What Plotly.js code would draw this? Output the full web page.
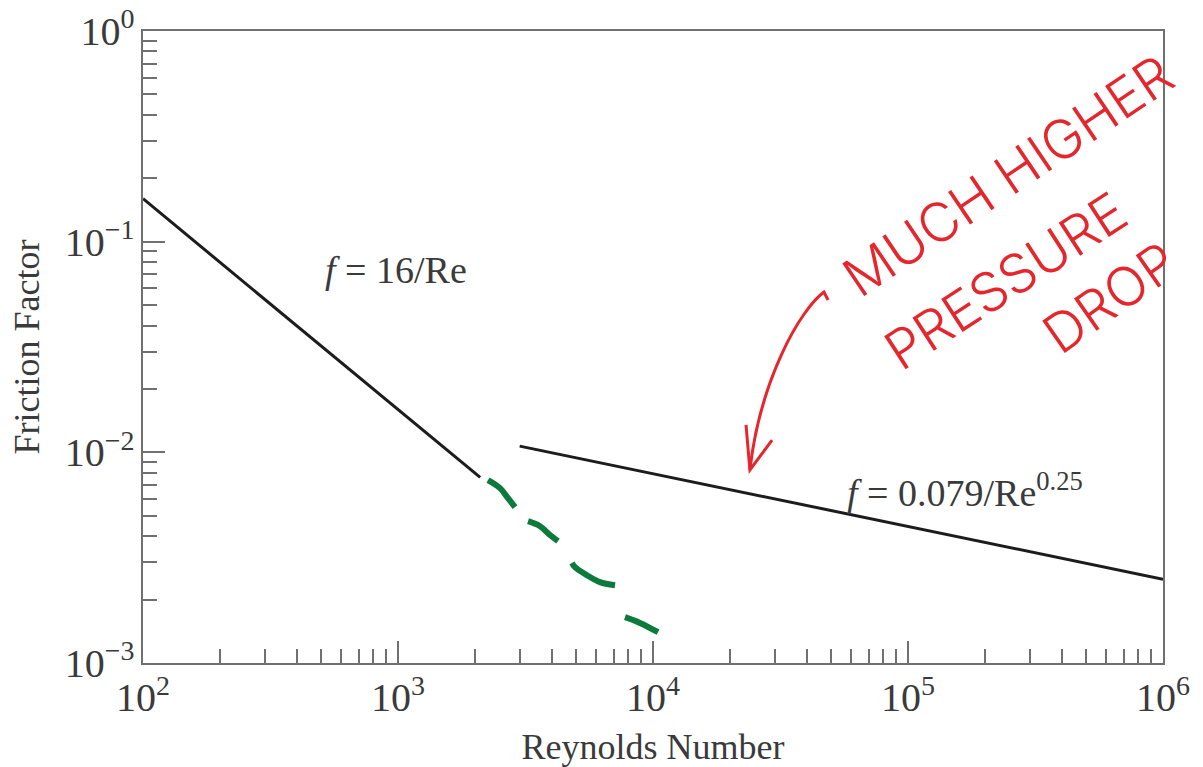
<!DOCTYPE html>
<html>
<head>
<meta charset="utf-8">
<script src="https://cdn.plot.ly/plotly-3.0.1.min.js"></script>
<style>
  html, body { margin: 0; padding: 0; background: #ffffff; }
  #chart { width: 1203px; height: 767px; }
</style>
</head>
<body>
<div id="chart"></div>
<script>
// Laminar branch, f = 16/Re
const reLaminar = [100, 2100];
const fLaminar = [0.16, 0.0076];

// Turbulent branch, f = 0.079/Re^0.25
const reTurbulent = [3000, 1000000];
const fTurbulent = [0.0107, 0.0025];

// Hand-drawn green dashes continuing the laminar line
const reDash1 = [2254, 2512, 2700, 2877];
const fDash1 = [0.00738, 0.00676, 0.00606, 0.00549];
const reDash2 = [3236, 3606, 3945, 4240];
const fDash2 = [0.00471, 0.00446, 0.00405, 0.00379];
const reDash3 = [4808, 4943, 5508, 6194, 7096];
const fDash3 = [0.00298, 0.00285, 0.00261, 0.00242, 0.00234];
const reDash4 = [7766, 8892, 10466];
const fDash4 = [0.00165, 0.00155, 0.00140];

const serif = "Liberation Serif, DejaVu Serif, serif";
const hand = "Inter, Lato, Liberation Sans, sans-serif";
const textGray = "#3a3a3a";
const axisGray = "#707070";
const inkRed = "#e5262c";
const inkGreen = "#0b7a3b";

const blackLine = { color: "#1c1c1c", width: 3 };
const greenLine = { color: inkGreen, width: 6, shape: "spline" };

const traces = [
  { x: reLaminar, y: fLaminar, mode: "lines", line: blackLine, hoverinfo: "skip" },
  { x: reTurbulent, y: fTurbulent, mode: "lines", line: blackLine, hoverinfo: "skip" },
  { x: reDash1, y: fDash1, mode: "lines", line: greenLine, hoverinfo: "skip" },
  { x: reDash2, y: fDash2, mode: "lines", line: greenLine, hoverinfo: "skip" },
  { x: reDash3, y: fDash3, mode: "lines", line: greenLine, hoverinfo: "skip" },
  { x: reDash4, y: fDash4, mode: "lines", line: greenLine, hoverinfo: "skip" }
];

const axisCommon = {
  type: "log",
  dtick: 1,
  tick0: 0,
  exponentformat: "power",
  showexponent: "all",
  showgrid: false,
  zeroline: false,
  showline: true,
  linecolor: axisGray,
  linewidth: 2,
  mirror: true,
  ticks: "inside",
  ticklen: 22,
  tickwidth: 2,
  tickcolor: axisGray,
  tickfont: { family: serif, size: 32, color: textGray },
  minor: { dtick: "D1", ticks: "inside", ticklen: 14, tickwidth: 2, tickcolor: axisGray, showgrid: false },
  automargin: false,
  fixedrange: true
};

function note(x, y, text, font, angle) {
  return {
    xref: "paper", yref: "paper", x: x, y: y,
    xanchor: "center", yanchor: "middle",
    text: text, showarrow: false, textangle: angle || 0, font: font
  };
}

const labelFont = { family: serif, size: 38, color: textGray };
const handFont = { family: hand, size: 54, weight: 300, color: inkRed };

const layout = {
  width: 1203,
  height: 767,
  margin: { l: 143, r: 40, t: 31, b: 104 },
  paper_bgcolor: "#ffffff",
  plot_bgcolor: "#ffffff",
  showlegend: false,
  xaxis: Object.assign({}, axisCommon, {
    range: [2, 6],
    title: { text: "Reynolds Number", font: { family: serif, size: 36, color: textGray }, standoff: 18 }
  }),
  yaxis: Object.assign({}, axisCommon, {
    range: [-3, 0],
    labelalias: { "1": "10<sup>0</sup>" },
    title: { text: "Friction Factor", font: { family: serif, size: 36, color: textGray }, standoff: 14 }
  }),
  annotations: [
    note(0.248, 0.622, "<i>f</i> = 16/Re", labelFont),
    note(0.806, 0.274, "<i>f</i> = 0.079/Re<sup>0.25</sup>", labelFont),
    note(0.848, 0.772, "MUCH HIGHER", handFont, -34),
    note(0.846, 0.606, "PRESSURE", handFont, -33),
    note(0.948, 0.578, "DROP", handFont, -35)
  ],
  shapes: [
    // curved arrow pointing at the turbulent line
    {
      type: "path", xref: "paper", yref: "paper",
      path: "M 0.6716,0.5744 L 0.6676,0.587 C 0.644,0.5585 0.605,0.4478 0.595,0.3054",
      line: { color: inkRed, width: 3 }
    },
    {
      type: "path", xref: "paper", yref: "paper",
      path: "M 0.5912,0.3766 L 0.595,0.3054 L 0.6167,0.3528",
      line: { color: inkRed, width: 3 }
    }
  ]
};

Plotly.newPlot("chart", traces, layout, { displayModeBar: false, staticPlot: true });
</script>
</body>
</html>
